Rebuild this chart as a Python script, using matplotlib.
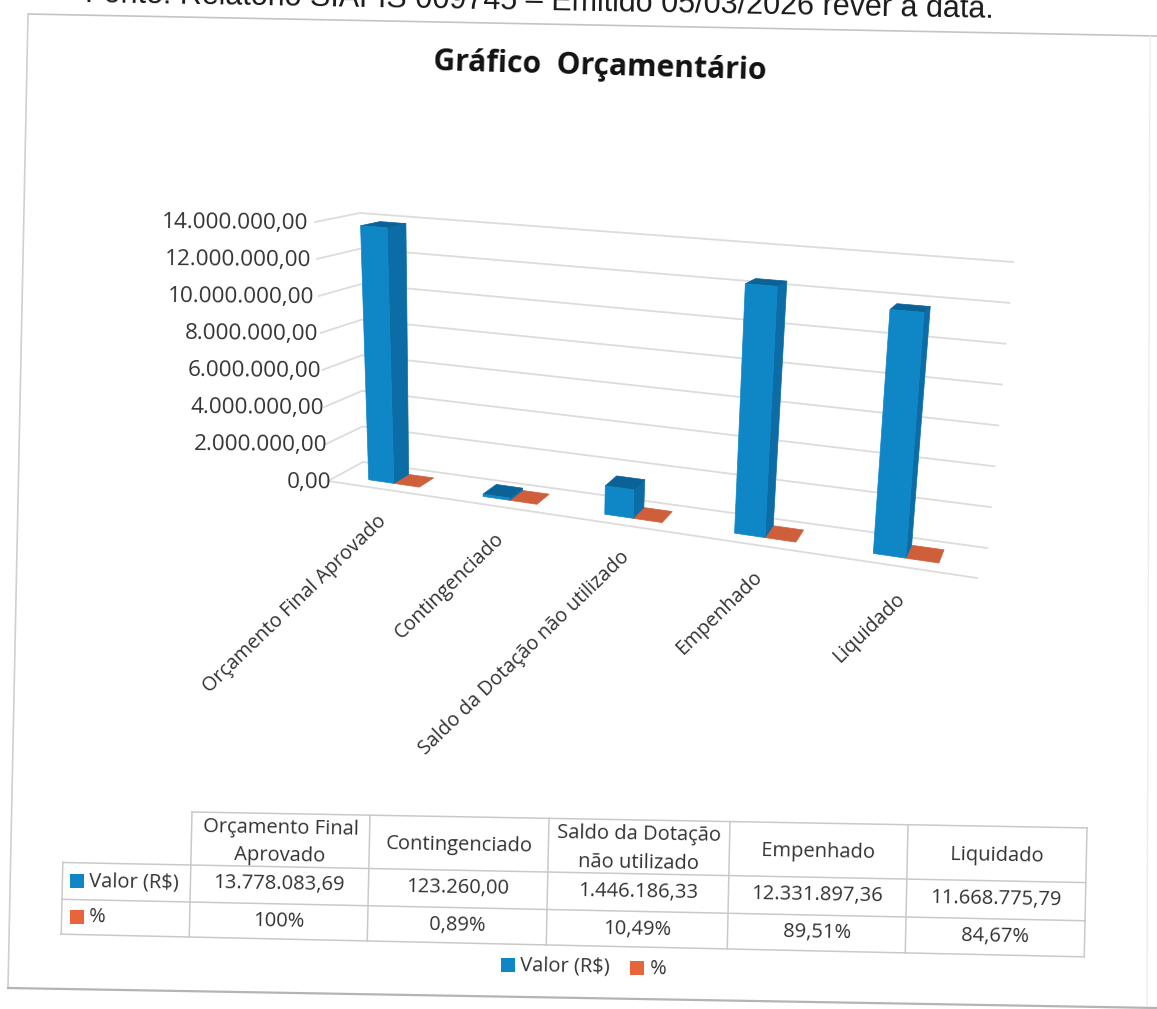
"""Budget chart from a scanned report page, slightly rotated, with a 3D column look."""

import numpy as np
import matplotlib
matplotlib.use("Agg")
import matplotlib.pyplot as plt
from matplotlib.patches import Polygon

categories = ["Orçamento Final Aprovado", "Contingenciado", "Saldo da Dotação não utilizado",
              "Empenhado", "Liquidado"]
table_headers = ["Orçamento Final\nAprovado", "Contingenciado", "Saldo da Dotação\nnão utilizado",
                 "Empenhado", "Liquidado"]
valor = [13778083.69, 123260.00, 1446186.33, 12331897.36, 11668775.79]
percent = [1.0, 0.0089, 0.1049, 0.8951, 0.8467]
valor_labels = ["13.778.083,69", "123.260,00", "1.446.186,33", "12.331.897,36", "11.668.775,79"]
percent_labels = ["100%", "0,89%", "10,49%", "89,51%", "84,67%"]
axis_ticks = [0, 2000000, 4000000, 6000000, 8000000, 10000000, 12000000, 14000000]
tick_labels = ["0,00", "2.000.000,00", "4.000.000,00", "6.000.000,00", "8.000.000,00",
               "10.000.000,00", "12.000.000,00", "14.000.000,00"]

BLUE, BLUE_DARK, BLUE_TOP = "#0f86c6", "#0b6ca6", "#0a6296"
ORANGE, ORANGE_KEY = "#cf5f3a", "#e8643a"
GRID = "#dcdcdc"
FONT = "Open Sans"
VMAX = 14000000

# pixel corners of the chart box, keyed (x, value, depth)
CORNERS = {
    (0, 0, 0): (328, 481), (1, 0, 0): (977, 578),
    (0, 0, 1): (363, 462), (1, 0, 1): (987, 548),
    (0, 1, 0): (315, 222), (1, 1, 0): (1003, 272),
    (0, 1, 1): (360, 213), (1, 1, 1): (1013, 262),
}
K = -0.15  # foreshortening along the category axis


def project(t, value, depth):
    """Box coordinates to pixels, t across the categories, depth front to back."""
    u = t * (1 + K) / (1 + K * t)
    v = value / VMAX
    out = np.zeros(2)
    for (a, b, c), p in CORNERS.items():
        w = (u if a else 1 - u) * (v if b else 1 - v) * (depth if c else 1 - depth)
        out += w * np.array(p)
    return out


def face(ax, points, color, zorder=3):
    ax.add_patch(Polygon(points, closed=True, facecolor=color, edgecolor=color, lw=0.5, zorder=zorder))


fig = plt.figure(figsize=(11.57, 10.09), dpi=100)
ax = fig.add_axes([0, 0, 1, 1])
ax.set_xlim(0, 1157)
ax.set_ylim(1009, 0)
ax.axis("off")

# paper frame
ax.plot([28, 1157], [14, 36], color="#c4c4c4", lw=1.2)
ax.plot([28, 8], [14, 988], color="#d0d0d0", lw=1.2)
ax.plot([8, 1157], [988, 1008], color="#b4b4b4", lw=1.6)
ax.plot([1150, 1147], [36, 1005], color="#ececec", lw=1.0)

ax.text(85, 2, "Fonte: Relatório SIAFIS 009745 – Emitido 05/03/2026 rever a data.",
        family="Liberation Sans", fontsize=22, color="#1a1a1a", rotation=-1.0,
        rotation_mode="anchor", ha="left", va="baseline")
ax.text(600, 67, "Gráfico  Orçamentário", family="Open Sans", fontsize=21.6, fontweight="bold",
        color="#111111", rotation=-1.6, rotation_mode="anchor", ha="center", va="center")

# gridlines on back and side walls
for tick, label in zip(axis_ticks, tick_labels):
    a, b, c = project(0, tick, 0), project(0, tick, 1), project(1, tick, 1)
    ax.plot([a[0], b[0], c[0]], [a[1], b[1], c[1]], color=GRID, lw=1.3, zorder=1)
    ax.text(a[0] + 3 - 10 * tick / VMAX, a[1] + 2, label, family=FONT, fontsize=16.2, color="#333333",
            ha="right", va="center", rotation=-0.5, rotation_mode="anchor")
a, b = project(0, 0, 0), project(1, 0, 0)
ax.plot([a[0], b[0]], [a[1], b[1]], color=GRID, lw=1.3, zorder=1)

# columns, the % series shares the R$ axis so it stays flat on the floor
T0, STEP, WIDTH = 0.055, 0.2, 0.045
Z0, Z1 = 0.30, 0.75
for i in range(len(categories)):
    left = T0 + i * STEP
    right = left + WIDTH
    h = valor[i]
    pct = percent[i]
    face(ax, [project(right, pct, Z0), project(right + WIDTH, pct, Z0),
              project(right + WIDTH, pct, Z1), project(right, pct, Z1)], ORANGE, zorder=2)
    face(ax, [project(right, 0, Z0), project(right, h, Z0),
              project(right, h, Z1), project(right, 0, Z1)], BLUE_DARK)
    face(ax, [project(left, h, Z0), project(right, h, Z0),
              project(right, h, Z1), project(left, h, Z1)], BLUE_TOP)
    face(ax, [project(left, 0, Z0), project(right, 0, Z0),
              project(right, h, Z0), project(left, h, Z0)], BLUE, zorder=4)
    p = project(left + WIDTH, 0, 0)
    ax.text(p[0], p[1] + 29, categories[i], family=FONT, fontsize=14.2,
            color="#333333", rotation=44, rotation_mode="anchor", ha="right", va="center")

# data table, tilted with the scan
col_edges = [0, 178, 357, 538, 716, 895]
row_edges = [0, 53, 90, 125]
LABEL_LEFT = -128


def table_xy(u, v):
    return 192 + u - 0.022 * v, 812 + 0.0178 * u + v * (1 + 3.5e-5 * u)


def table_line(u0, v0, u1, v1):
    a, b = table_xy(u0, v0), table_xy(u1, v1)
    ax.plot([a[0], b[0]], [a[1], b[1]], color="#c9c9c9", lw=1.1, zorder=1)


for v in row_edges:
    table_line(0 if v == 0 else LABEL_LEFT, v, col_edges[-1], v)
for u in col_edges:
    table_line(u, 0, u, row_edges[-1])
table_line(LABEL_LEFT, row_edges[1], LABEL_LEFT, row_edges[-1])


def table_text(u, v, s, ha="center"):
    x, y = table_xy(u, v)
    ax.text(x, y, s, family=FONT, fontsize=14.5, color="#333333", ha=ha, va="center",
            rotation=-1.0, rotation_mode="anchor", linespacing=1.55, multialignment="center")


for i in range(len(categories)):
    mid = (col_edges[i] + col_edges[i + 1]) / 2
    table_text(mid, (row_edges[0] + row_edges[1]) / 2 + 2, table_headers[i])
    table_text(mid, (row_edges[1] + row_edges[2]) / 2 - 1, valor_labels[i])
    table_text(mid, (row_edges[2] + row_edges[3]) / 2, percent_labels[i])

for row, (name, color) in enumerate([("Valor (R$)", BLUE), ("%", ORANGE_KEY)]):
    v = (row_edges[row + 1] + row_edges[row + 2]) / 2
    x, y = table_xy(LABEL_LEFT + 10, v)
    ax.scatter([x + 5], [y], marker="s", s=95, color=color, zorder=3, linewidths=0)
    table_text(LABEL_LEFT + 27, v, name, ha="left")

# legend below the table
ax.scatter([508], [965], marker="s", s=95, color=BLUE, linewidths=0)
ax.text(520, 966, "Valor (R$)", family=FONT, fontsize=14.5, color="#333333", ha="left", va="center",
        rotation=-1.0, rotation_mode="anchor")
ax.scatter([637], [968], marker="s", s=95, color=ORANGE_KEY, linewidths=0)
ax.text(650, 969, "%", family=FONT, fontsize=14.5, color="#333333", ha="left", va="center",
        rotation=-1.0, rotation_mode="anchor")

fig.savefig("out.png", dpi=100, facecolor="white")
